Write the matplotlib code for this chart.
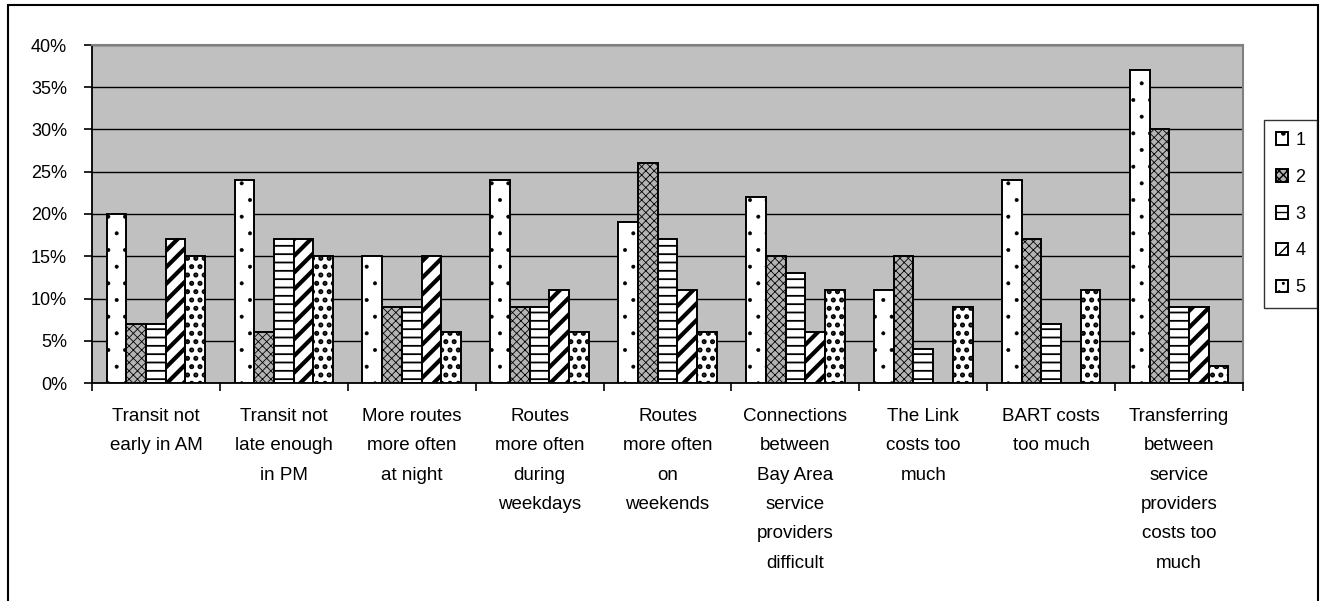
import matplotlib
matplotlib.use("Agg")
import matplotlib.pyplot as plt
import numpy as np
from matplotlib.patches import Rectangle
from matplotlib.ticker import FuncFormatter, FixedLocator

categories = [
    "Transit not\nearly in AM",
    "Transit not\nlate enough\nin PM",
    "More routes\nmore often\nat night",
    "Routes\nmore often\nduring\nweekdays",
    "Routes\nmore often\non\nweekends",
    "Connections\nbetween\nBay Area\nservice\nproviders\ndifficult",
    "The Link\ncosts too\nmuch",
    "BART costs\ntoo much",
    "Transferring\nbetween\nservice\nproviders\ncosts too\nmuch",
]
series_names = ["1", "2", "3", "4", "5"]
s1 = [20, 24, 15, 24, 19, 22, 11, 24, 37]
s2 = [7, 6, 9, 9, 26, 15, 15, 17, 30]
s3 = [7, 17, 9, 9, 17, 13, 4, 7, 9]
s4 = [17, 17, 15, 11, 11, 6, 0, 0, 9]
s5 = [15, 15, 6, 6, 6, 11, 9, 11, 2]
yticks = [0, 5, 10, 15, 20, 25, 30, 35, 40]

series = [s1, s2, s3, s4, s5]
styles = [
    dict(fc="white", hatch=".", hlw=0.4),
    dict(fc="#b4b4b4", hatch="xxxx", hlw=0.6),
    dict(fc="white", hatch="--", hlw=1.3),
    dict(fc="white", hatch="//", hlw=3.0),
    dict(fc="white", hatch="..", hlw=2.4),
]

plt.rcParams["font.family"] = ["Liberation Sans", "DejaVu Sans"]

fig = plt.figure(figsize=(13.23, 6.01), dpi=100)
ax = fig.add_axes([92 / 1323, 1 - 383 / 601, (1243 - 92) / 1323, (383 - 45) / 601])
ax.set_facecolor("#c0c0c0")

x = np.arange(len(categories))
w = 0.154
handles = []
for i, (vals, st) in enumerate(zip(series, styles)):
    with plt.rc_context({"hatch.linewidth": st["hlw"]}):
        bars = ax.bar(x + (i - 2) * w, vals, width=w, facecolor=st["fc"],
                      edgecolor="black", linewidth=1.4, hatch=st["hatch"],
                      label=series_names[i], zorder=3)
        for b in bars:
            if hasattr(b, "set_hatch_linewidth"):
                b.set_hatch_linewidth(st["hlw"])
    handles.append(bars)

ax.set_ylim(0, 40)
ax.set_xlim(-0.5, len(categories) - 0.5)
ax.set_yticks(yticks)
ax.yaxis.set_major_formatter(FuncFormatter(lambda v, p: f"{int(v)}%"))
ax.yaxis.grid(True, color="black", linewidth=1.0, zorder=1)
ax.set_axisbelow(True)

ax.xaxis.set_major_locator(FixedLocator(np.arange(-0.5, len(categories), 1.0)))
ax.xaxis.set_major_formatter(FuncFormatter(lambda v, p: ""))
ax.set_xticks(x, minor=True)
ax.set_xticklabels(categories, minor=True, fontsize=13.5, linespacing=1.95)
ax.tick_params(axis="x", which="major", length=6, width=1.2, color="black")
ax.tick_params(axis="x", which="minor", length=0, pad=18)
ax.tick_params(axis="y", length=6, width=1.2, pad=12, labelsize=13)

for side in ["top", "right"]:
    ax.spines[side].set_color("#808080")
    ax.spines[side].set_linewidth(1.5)
for side in ["left", "bottom"]:
    ax.spines[side].set_color("black")
    ax.spines[side].set_linewidth(1.3)

leg = fig.legend(handles=handles, labels=series_names, loc="center left",
                 bbox_to_anchor=(1264 / 1323, 1 - 214 / 601), fontsize=13,
                 frameon=True, fancybox=False, shadow=False, borderaxespad=0,
                 handlelength=0.7, handleheight=0.7, handletextpad=0.4,
                 labelspacing=1.1, borderpad=0.65)
leg.get_frame().set_edgecolor("black")
leg.get_frame().set_linewidth(1.0)

fig.patches.append(Rectangle((8 / 1323, -0.05), (1318 - 8) / 1323, 1.05 - 5 / 601,
                             transform=fig.transFigure, fill=False,
                             edgecolor="black", linewidth=1.5))

fig.savefig("out.png", dpi=100)
